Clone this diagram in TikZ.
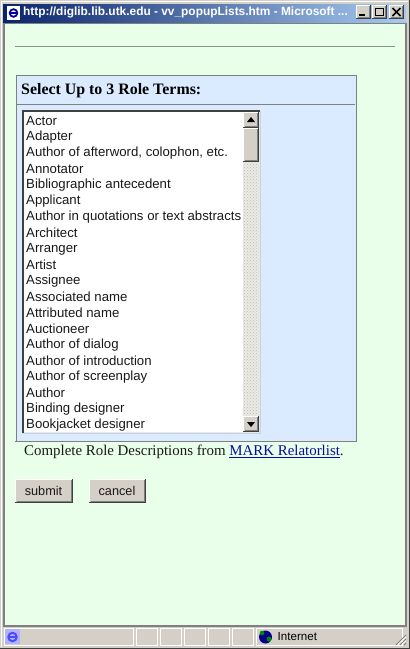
\documentclass[tikz,border=0pt]{standalone}
\usepackage{fontspec}
\setmainfont{Liberation Serif}
\setsansfont{Liberation Sans}
\usetikzlibrary{patterns}
\definecolor{wingray}{RGB}{212,208,200}
\definecolor{windark}{RGB}{64,64,64}
\definecolor{winmid}{RGB}{128,128,128}
\definecolor{pagebg}{RGB}{234,255,234}
\definecolor{panelbg}{RGB}{218,235,255}
\definecolor{rulecol}{RGB}{140,146,140}
\definecolor{tbar}{RGB}{10,36,106}
\definecolor{tbarr}{RGB}{166,202,240}
\definecolor{linkblue}{RGB}{10,10,160}
\tikzset{
  x=1pt,y=-1pt,
  listitem/.style={anchor=west,inner sep=0pt,font=\fontsize{13.2}{15}\sffamily,text=black!90},
  serifnote/.style={anchor=west,inner sep=0pt,font=\fontsize{14.9}{17}\rmfamily,text=black!90},
  btnlabel/.style={anchor=center,inner sep=0pt,font=\fontsize{12.7}{15}\sffamily,text=black!90},
  statuspanel/.style={draw=white,fill=wingray,line width=0.6pt},
}
\newcommand{\raisedbox}[4]{% x1 y1 x2 y2
  \fill[wingray] (#1,#2) rectangle (#3,#4);
  \draw[white,line width=1pt] (#1+.5,#4-1) -- (#1+.5,#2+.5) -- (#3-1,#2+.5);
  \draw[winmid,line width=1pt] (#1+1.5,#4-1.5) -- (#3-1.5,#4-1.5) -- (#3-1.5,#2+1);
  \draw[windark,line width=1pt] (#1,#4-.5) -- (#3-.5,#4-.5) -- (#3-.5,#2);
}
\begin{document}
\begin{tikzpicture}
\useasboundingbox (0,0) rectangle (410,649);
% window frame
\fill[wingray] (0,0) rectangle (410,649);
\draw[windark,line width=1pt] (409.5,0) -- (409.5,648.5) -- (0,648.5);
\draw[white,line width=1pt] (1.5,647) -- (1.5,1.5) -- (408,1.5);
% title bar
\shade[left color=tbar,right color=tbarr] (3,4) rectangle (406,22);
\node[anchor=west,inner sep=0pt,text=white,font=\fontsize{11.9}{13}\sffamily\bfseries] (title) at (23,12.5) {http://diglib.lib.utk.edu - vv\_popupLists.htm - Microsoft ...};
% app icon
\fill[white] (7,6) rectangle (20,20);
\draw[blue!65!black,line width=1.8pt] (13.5,13) circle (3.8);
\draw[blue!65!black,line width=1.3pt] (9,13) -- (18,13);
% window buttons
\raisedbox{356}{5}{371}{19}
\raisedbox{372}{5}{387}{19}
\raisedbox{389}{5}{404}{19}
\draw[black,line width=2pt] (359,15) -- (365,15);
\draw[black,line width=1pt] (375.5,8.5) rectangle (383.5,15.5);
\draw[black,line width=1.5pt] (392.5,8) -- (400.5,16) (400.5,8) -- (392.5,16);
% page
\fill[winmid] (3,23) rectangle (407,627);
\fill[pagebg] (5,24) rectangle (405,625);
\draw[rulecol,line width=1.4pt] (15,46.5) -- (395,46.5);
% panel
\fill[panelbg] (16,75) rectangle (356,441);
\draw[winmid,line width=0.8pt] (16.5,75) -- (356.5,75) -- (356.5,441) -- (15,441);
\draw[winmid,line width=0.8pt] (16.5,75) -- (16.5,441);
\draw[winmid,line width=0.8pt] (17,104.5) -- (355,104.5);
\node[anchor=west,inner sep=0pt,font=\fontsize{15.9}{18}\rmfamily\bfseries] (heading) at (21,90.5) {Select Up to 3 Role Terms:};
% listbox
\fill[white] (24,111) rectangle (243,432);
\draw[windark,line width=1.6pt] (23.2,433) -- (23.2,110.8) -- (260,110.8);
\draw[wingray,line width=1pt] (23,433) -- (260,433) -- (260,111);
% scrollbar
\fill[wingray!45!white] (243,162) rectangle (259,416);
\fill[pattern=crosshatch dots,pattern color=wingray!90!black] (243,162) rectangle (259,416);
\raisedbox{243}{112}{259}{128}
\raisedbox{243}{128}{259}{162}
\raisedbox{243}{416}{259}{432}
\fill[black] (251,117) -- (255,122) -- (247,122) -- cycle;
\fill[black] (251,427) -- (255,422) -- (247,422) -- cycle;
% list items
\node[listitem] (i1) at (26,121) {Actor};
\node[listitem] (i2) at (26,137) {Adapter};
\node[listitem] (i3) at (26,153) {Author of afterword, colophon, etc.};
\node[listitem] (i4) at (26,169) {Annotator};
\node[listitem] (i5) at (26,185) {Bibliographic antecedent};
\node[listitem] (i6) at (26,201) {Applicant};
\node[listitem] (i7) at (26,217) {Author in quotations or text abstracts};
\node[listitem] (i8) at (26,233) {Architect};
\node[listitem] (i9) at (26,249) {Arranger};
\node[listitem] (i10) at (26,265) {Artist};
\node[listitem] (i11) at (26,281) {Assignee};
\node[listitem] (i12) at (26,297) {Associated name};
\node[listitem] (i13) at (26,313) {Attributed name};
\node[listitem] (i14) at (26,329) {Auctioneer};
\node[listitem] (i15) at (26,345) {Author of dialog};
\node[listitem] (i16) at (26,361) {Author of introduction};
\node[listitem] (i17) at (26,377) {Author of screenplay};
\node[listitem] (i18) at (26,393) {Author};
\node[listitem] (i19) at (26,409) {Binding designer};
\node[listitem] (i20) at (26,425) {Bookjacket designer};
% note
\node[serifnote] (note) at (24,452) {Complete Role Descriptions from \textcolor{linkblue}{\underline{MARK Relatorlist}}.};
% buttons
\raisedbox{15}{479}{73}{503}
\raisedbox{89}{479}{146}{503}
\node[btnlabel] (submit) at (43.5,491) {submit};
\node[btnlabel] (cancel) at (117,491) {cancel};
% status bar
\draw[statuspanel] (4.5,628.5) rectangle (133,645.5);
\draw[statuspanel] (136.5,628.5) rectangle (157.5,645.5);
\draw[statuspanel] (160.5,628.5) rectangle (181.5,645.5);
\draw[statuspanel] (184.5,628.5) rectangle (205.5,645.5);
\draw[statuspanel] (208.5,628.5) rectangle (229.5,645.5);
\draw[statuspanel] (232.5,628.5) rectangle (253.5,645.5);
\draw[statuspanel] (256.5,628.5) rectangle (402,645.5);
% status icons
\fill[blue!30!white] (5,629) rectangle (20,644);
\draw[blue!70!white,line width=2pt] (12.5,637) circle (4.2);
\draw[blue!70!white,line width=1.4pt] (8,637) -- (17,637);
\fill[blue!55!black] (265.5,637) circle (6.5);
\fill[green!55!black] (262,633) circle (2.3);
\fill[green!55!black] (269,639) circle (2.5);
\node[anchor=west,inner sep=0pt,font=\fontsize{11.6}{13}\sffamily] (zone) at (277.5,637) {Internet};
% size grip
\draw[winmid,line width=0.9pt] (396,645) -- (406,635) (400,645) -- (406,639) (404,645) -- (406,643);
\draw[white,line width=0.7pt] (397.5,645) -- (406,636.5) (401.5,645) -- (406,640.5);
\end{tikzpicture}
\end{document}
